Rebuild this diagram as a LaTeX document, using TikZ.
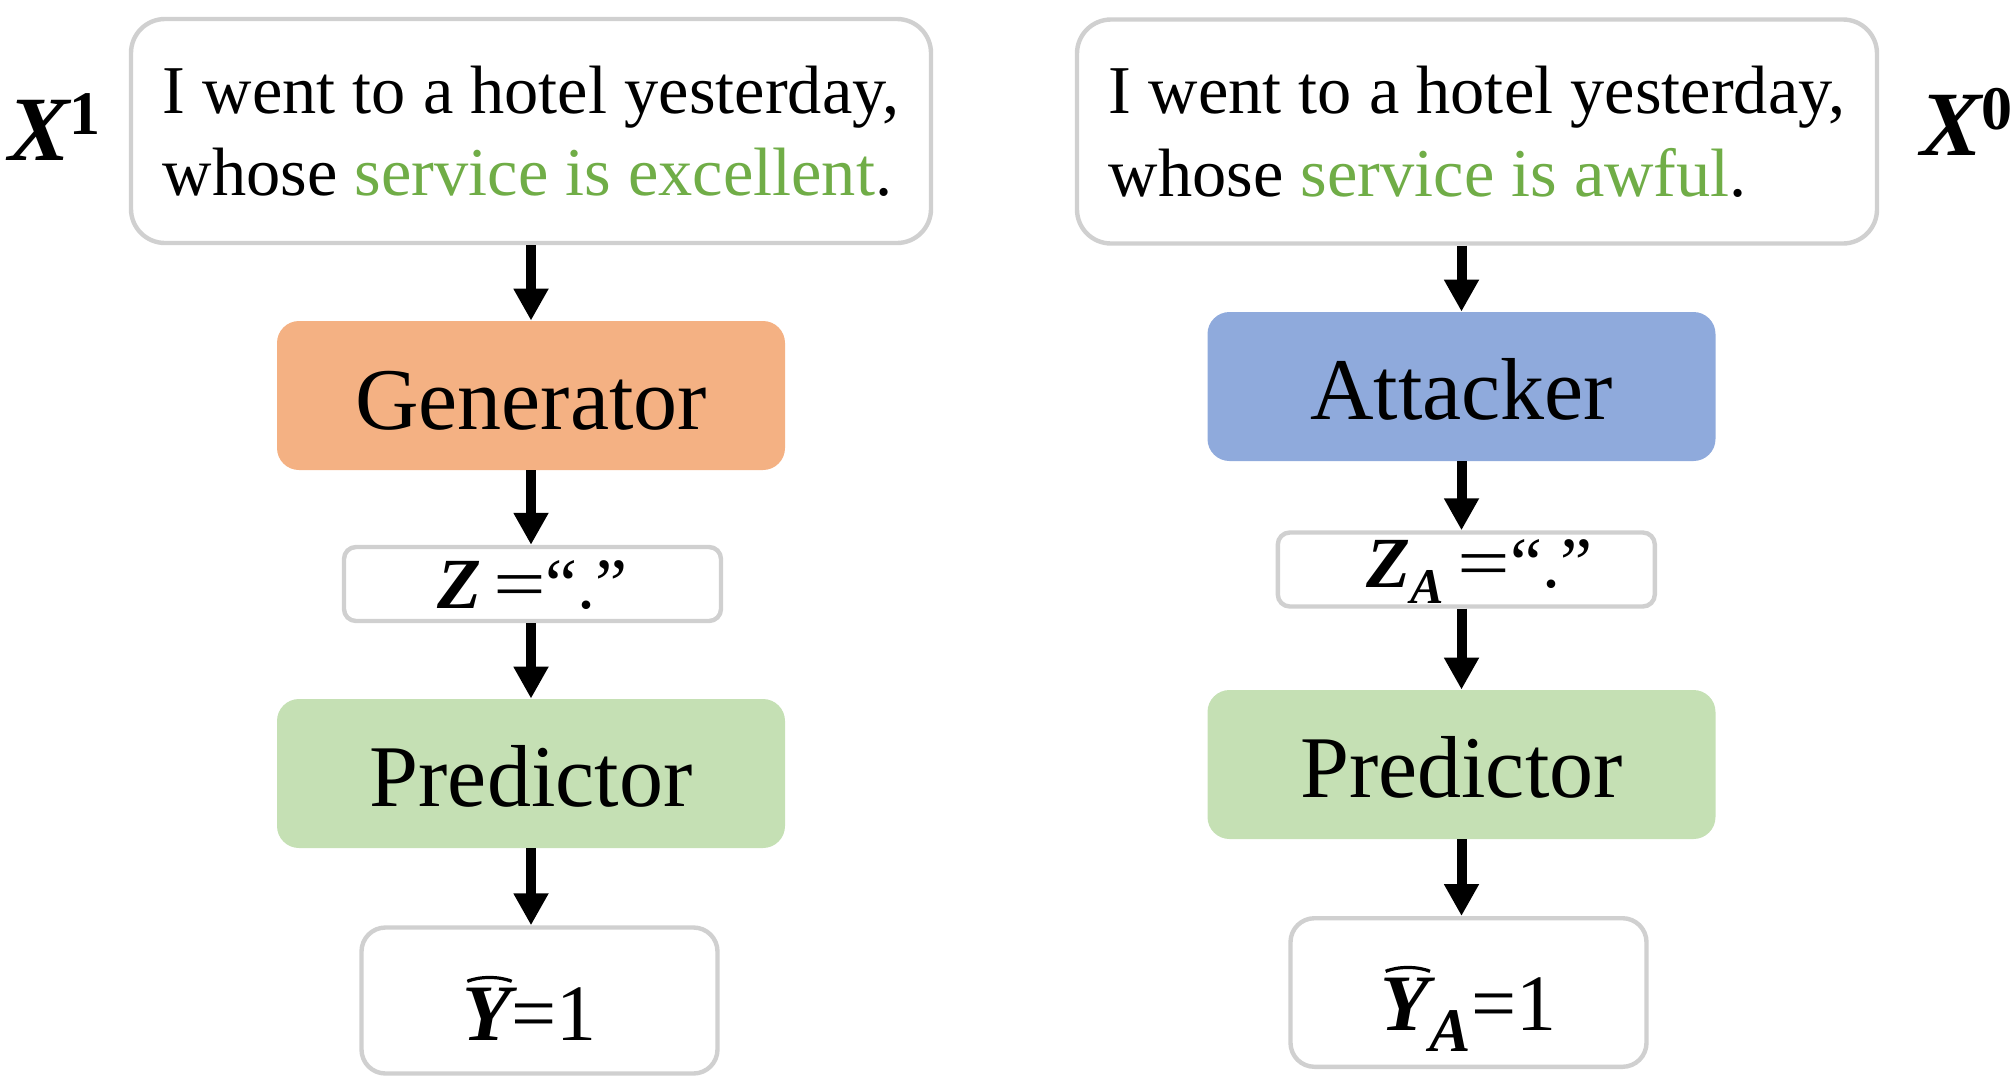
\RequirePackage{fix-cm}
\documentclass[tikz,border=0pt]{standalone}
\usepackage{fontspec}
\setmainfont{Liberation Serif}
\usetikzlibrary{arrows.meta}
\definecolor{boxgray}{HTML}{D0D0D0}
\definecolor{genfill}{HTML}{F4B183}
\definecolor{attfill}{HTML}{8FAADC}
\definecolor{predfill}{HTML}{C5E0B4}
\definecolor{hilite}{HTML}{70AD47}
\newcommand{\bi}[1]{{\bfseries\itshape #1}}
\newcommand{\wideq}{\scalebox{1.3}[1]{=}}
\newcommand{\hatY}{\leavevmode\rlap{\raisebox{30pt}{\tikz[baseline=0pt]{\path (0pt,0pt); \draw[line width=1.6pt, line join=miter, line cap=butt] (4pt,0pt) -- (13.5pt,4pt) -- (23pt,0pt);}}}\bi{Y}}
\begin{document}
\begin{tikzpicture}[x=0.5pt,y=-0.5pt,
  sentbox/.style={draw=boxgray, line width=2.2pt, fill=white, rounded corners=17pt,
    minimum width=400pt, minimum height=112pt, align=left, inner sep=0pt,
    font=\fontsize{34.2}{41.25}\selectfont},
  smallbox/.style={draw=boxgray, line width=2.2pt, fill=white, rounded corners=6pt,
    minimum width=188.5pt, minimum height=37pt, inner sep=0pt, text depth=0pt,
    font=\fontsize{36}{40}\selectfont},
  outbox/.style={draw=boxgray, line width=2.2pt, fill=white, rounded corners=12pt,
    minimum width=178pt, minimum height=73pt, inner sep=0pt, text depth=0pt,
    font=\fontsize{40}{46}\selectfont},
  modbox/.style={rounded corners=11pt, minimum width=254pt, minimum height=74.5pt,
    inner sep=0pt, text depth=0pt, font=\fontsize{44}{50}\selectfont},
  arr/.style={line width=5pt, -{Triangle[length=16pt,width=16.5pt]}},
  xlab/.style={inner sep=0pt, font=\fontsize{46}{50}\selectfont}
]
\useasboundingbox (0,0) rectangle (2015,1077);

% left column
\node[sentbox] (tl) at (531,131) {I went to a hotel yesterday,\\whose \textcolor{hilite}{service is excellent}.};
\node[modbox, fill=genfill, text height=33.5pt] (gen) at (531,395.5) {Generator};
\node[smallbox, text height=24pt] (zl) at (532.5,584) {\bi{Z}\hspace{6pt}\wideq“.”};
\node[modbox, fill=predfill, text height=32.5pt] (pl) at (531,773.5) {Predictor};
\node[outbox, text height=39.5pt] (yl) at (539.5,1000.5) {\hatY=1\kern10pt};

% right column
\node[sentbox] (tr) at (1477,131.5) {I went to a hotel yesterday,\\whose \textcolor{hilite}{service is awful}.};
\node[modbox, fill=attfill, text height=32.5pt] (att) at (1461.5,386.5) {Attacker};
\node[smallbox, text height=18pt] (zr) at (1466.3,569.5) {\hspace*{13pt}\bi{Z}\raisebox{-8pt}{\fontsize{25}{28}\selectfont\bi{A}}\hspace{7pt}\wideq“.”};
\node[modbox, fill=predfill, text height=32.5pt] (pr) at (1461.5,764.5) {Predictor};
\node[outbox, minimum height=74.3pt, text height=37.5pt] (yr) at (1468.5,992.5) {\hatY\raisebox{-10.5pt}{\fontsize{31}{34}\selectfont\bi{A}}=1};

% side labels
\node[xlab, anchor=base west] (x1) at (8,160) {\bi{X}\raisebox{13pt}{\fontsize{31}{34}\selectfont\bfseries 1}};
\node[xlab, anchor=base east] (x0) at (2013,155) {\bi{X}\raisebox{13pt}{\fontsize{31}{34}\selectfont\bfseries 0}};

% arrows
\draw[arr] (tl.south) -- (gen.north);
\draw[arr] (gen.south) -- (gen.south |- zl.north);
\draw[arr] (gen.south |- zl.south) -- (pl.north);
\draw[arr] (pl.south) -- (pl.south |- yl.north);

\draw[arr] (att.north |- tr.south) -- (att.north);
\draw[arr] (att.south) -- (att.south |- zr.north);
\draw[arr] (att.south |- zr.south) -- (pr.north);
\draw[arr] (pr.south) -- (pr.south |- yr.north);
\end{tikzpicture}
\end{document}
